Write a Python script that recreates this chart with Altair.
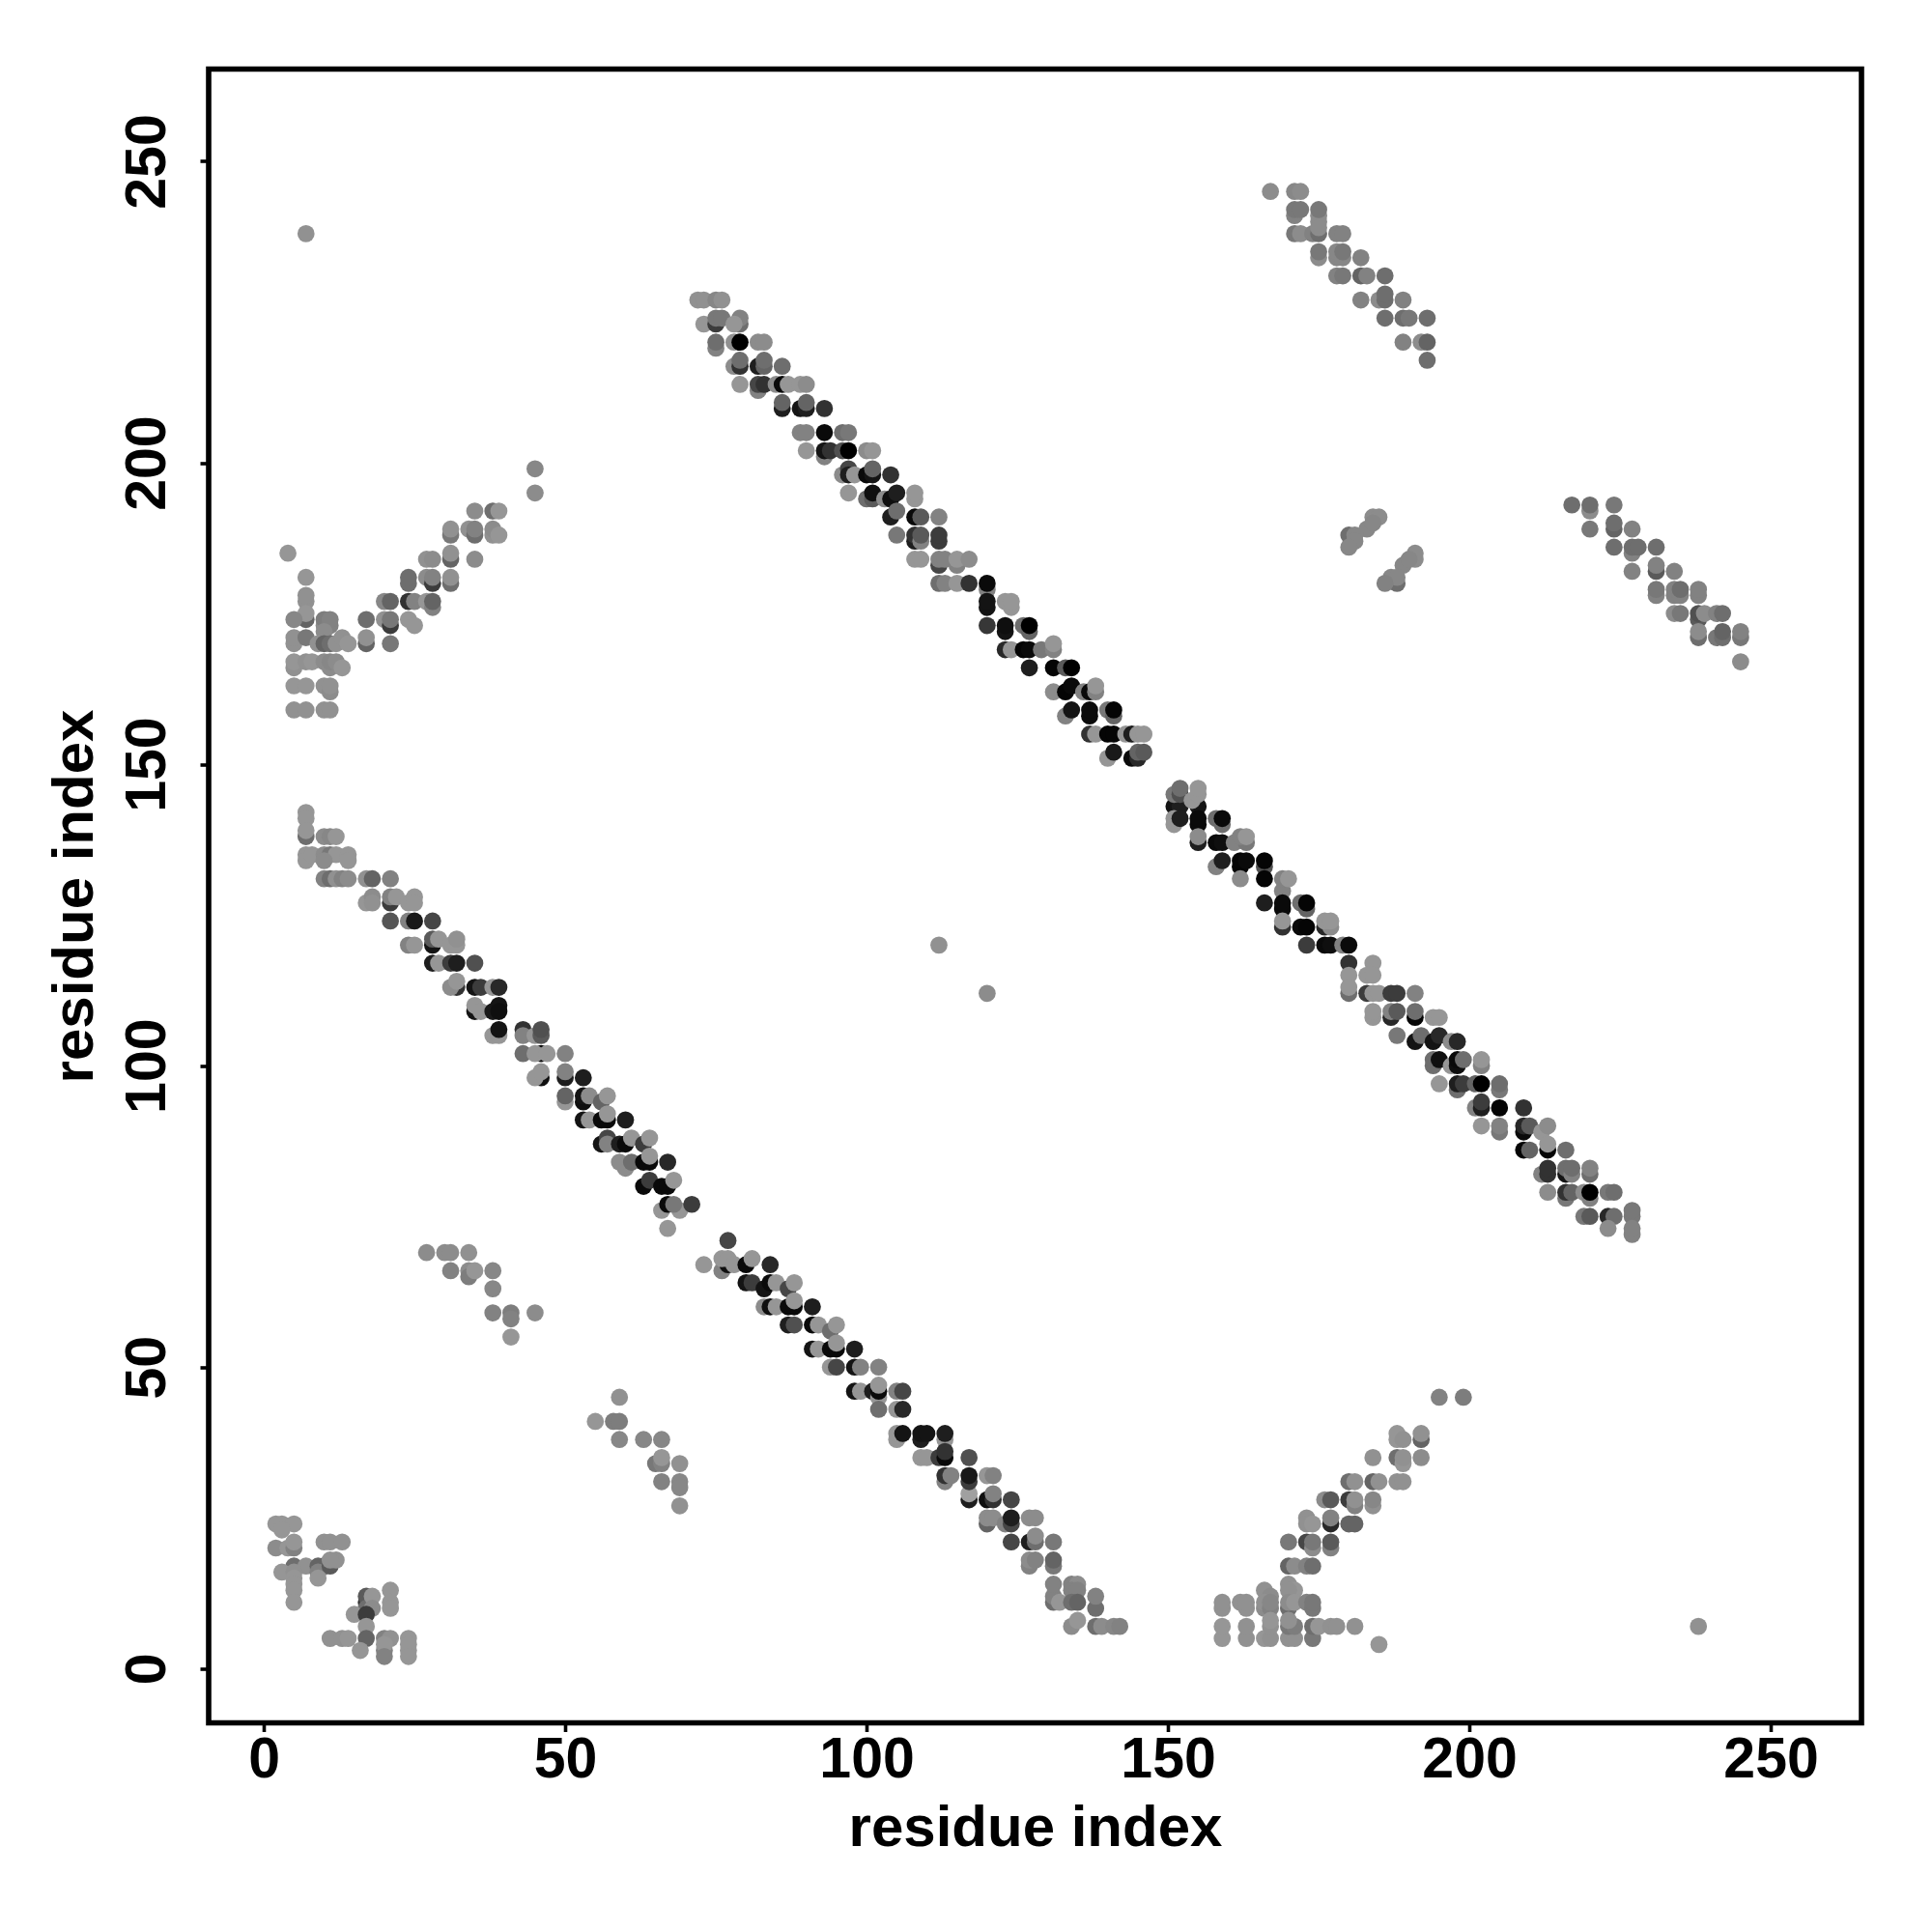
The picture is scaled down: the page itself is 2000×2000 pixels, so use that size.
import altair as alt
import pandas as pd

TICKS = [0, 50, 100, 150, 200, 250]
TITLE = "residue index"

# (residue x, residue y, grey level)
bottom_left = [(2,24,150),(3,24,150),(5,24,150),(3,23,150),(2,20,140),(4,20,150),(5,20,130),(5,21,150),(10,21,145),(11,21,145),(13,21,145),
(5,17,110),(7,17,145),(10,17,50),(9,17,100),(3,16,150),(5,16,145),(9,16,130),(11,17,90),(12,18,145),(11,18,145),(9,15,150),(5,15,150),(5,14,150),(5,13,150),(5,11,150),
(17,11,50),(21,13,150),(17,12,90),(17,10,110),(18,12,150),(21,11,150),(21,10,150),(18,10,140),(15,9,150),(17,9,60),(17,7,150),
(11,5,145),(13,5,145),(14,5,150),(17,5,100),(20,5,130),(21,5,145),(24,5,150),(16,3,150),(20,3,130),(24,3,150),(20,4,150),(24,4,150),(20,2,130),(24,2,150)]
cluster_27_45 = [(27,69,140),(30,69,140),(31,69,140),(34,69,145),(31,66,130),(34,66,140),(34,65,125),(35,66,150),(38,66,135),(38,63,135),(38,59,130),(41,59,125),(41,58,130),(41,55,150),(45,59,140)]
cluster_54_69 = [(59,45,145),(55,41,150),(58,41,125),(59,41,125),(59,38,135),(63,38,135),(66,38,135),(65,34,120),(66,34,130),(66,35,150),(69,34,145),(66,31,130),(69,31,135),(69,30,135),(69,27,145)]
singles = [(112,120,145),(120,112,140),(7,238,145),(238,7,145),(185,4,150),(195,45,130),(199,45,125)]

lower_diag_a = [(7,142,150),(7,141,150),(7,138,110),(7,139,150),(10,138,140),(11,138,135),(12,138,150),(7,135,150),(7,134,150),(8,135,150),(10,135,140),(11,135,120),(12,135,150),(10,134,140),(14,135,150),(14,134,150),
(10,131,130),(11,131,110),(12,131,145),(13,131,130),(14,131,140),(17,131,145),(18,131,100),(21,131,130),(17,127,150),(18,128,140),(18,127,145),(21,127,60),(21,128,130),(22,128,150),(24,127,150),(25,128,150),(25,127,150),
(21,124,85),(24,124,130),(25,124,25),(28,124,70),(24,120,130),(25,120,150),(28,120,20),(28,121,90),(29,121,150),(31,120,150),(32,120,150),(32,121,145),
(28,117,30),(29,117,150),(31,117,60),(32,117,30),(35,117,80),(32,113,50),(31,113,140),(32,114,150),(35,113,20),(36,113,60),(38,113,150),(39,113,40),
(35,109,20),(35,110,150),(36,109,150),(38,109,25),(39,110,20),(39,109,15),(38,105,150),(39,105,150),(39,106,20),
(43,106,50),(43,105,130),(45,105,150),(46,105,90),(46,106,80),(43,102,110),(46,102,10),(45,102,150),(47,102,150),(50,102,130),(46,98,15),(45,98,150),(46,99,150),(50,98,30),(50,99,130),(53,98,30),
(50,94,150),(50,95,100),(53,94,15),(53,95,20),(54,95,140),(56,94,100),(57,95,150),(53,91,20),(54,91,150),(56,91,10),(57,91,10),(57,92,150),(60,91,30),
(56,87,20),(57,88,70),(57,87,130),(59,87,30),(60,87,10),(61,88,150),(63,87,60),(64,88,150),(60,83,140),(59,84,140),(61,84,110),(63,84,10),(64,84,10),(64,85,150),(67,84,40),
(63,80,10),(64,81,60),(66,80,10),(67,80,10),(68,81,150),(66,76,150),(69,76,150),(67,77,10),(68,77,120),(71,77,60),(67,73,150)]

lower_diag_b = [(77,71,70),(73,67,150),(76,66,130),(77,67,15),(76,68,150),(77,68,150),(78,67,150),(80,67,10),(81,68,150),(84,67,40),
(80,64,20),(81,64,60),(83,63,20),(84,64,10),(85,64,150),(87,63,70),(88,64,150),(83,60,140),(84,60,15),(85,60,150),(87,60,10),(88,60,10),(88,61,150),(91,60,30),
(87,57,30),(88,57,80),(91,57,10),(92,57,150),(94,56,110),(95,57,150),(91,53,20),(92,53,150),(94,53,10),(95,53,10),(95,54,150),(98,53,30),
(94,50,150),(95,50,70),(98,50,20),(99,50,130),(102,50,130),(98,46,20),(99,46,150),(101,46,30),(102,45,150),(102,46,10),(102,47,150),(105,46,130),(106,46,70),(102,43,110),(105,43,150),(106,43,40),
(105,38,150),(105,39,150),(106,39,20),(109,38,30),(109,39,20),(110,39,20),(113,38,150),(113,39,30),(109,35,150),(110,35,150),(112,35,60),(113,35,10),(113,36,50),
(113,31,130),(113,32,50),(114,32,130),(117,35,80),(117,28,30),(117,29,160),(117,31,60),(117,32,25),(120,32,150),(121,32,130),(120,28,15),(121,28,50),(121,29,130),(124,28,70),
(120,24,100),(120,25,140),(121,25,140),(123,24,130),(124,24,70),(124,25,30),(124,21,70),(127,21,30),(128,21,110),(128,22,140),(127,25,140),(128,25,140),(131,21,120),
(127,17,130),(127,18,140),(128,18,130),(131,17,120),(131,18,100),(131,11,110),(131,12,130),(131,14,130),(132,11,150),(134,14,130),(135,14,140),(134,13,130),(135,13,130),(134,11,110),(135,11,100),(138,10,110),(138,12,130),
(134,7,140),(135,8,150),(138,7,110),(139,7,140),(141,7,135),(142,7,130)]

bottom_right = [(188,38,150),(188,39,150),(189,38,145),(192,38,100),(192,39,145),(184,35,145),(188,35,110),(189,34,150),(189,35,145),(192,35,140),
(180,31,110),(181,31,145),(184,31,100),(185,31,145),(188,31,145),(189,31,145),(176,28,140),(177,28,90),(180,28,60),(181,27,130),(181,28,145),(184,27,145),(184,28,135),
(173,25,145),(173,24,145),(174,24,150),(177,24,40),(177,25,130),(180,24,100),(181,24,100),(170,21,120),(173,21,70),(174,20,140),(174,21,120),(177,20,130),(177,21,90),
(170,17,100),(171,17,140),(173,17,130),(174,17,110),(166,13,145),(170,14,145),(171,13,150),(170,13,145),(167,12,140),(170,10,110),(170,11,140),(171,11,150),(166,10,140),(166,11,145),(167,10,130),(167,11,135),(173,11,130),(174,10,120),(174,11,120),
(159,10,145),(159,11,145),(162,11,145),(163,10,145),(163,11,145),(159,5,150),(159,7,150),(163,5,145),(163,7,145),(166,5,150),(167,5,145),(167,7,145),(167,8,150),(170,5,145),(171,5,145),(170,7,120),(171,7,125),(170,8,145),(174,5,120),(174,7,110),(175,7,150),(177,7,145),(178,7,145),(181,7,145)]

upper_left = [(45,199,135),(45,195,140),(4,185,150),(7,181,150),(7,177,145),(7,178,145),(7,174,100),(7,175,150),(5,174,135),(5,170,145),(5,171,145),(7,171,120),(10,173,140),(10,174,125),(11,173,130),(11,174,130),(10,172,140),
(9,170,145),(10,170,100),(11,170,110),(12,170,145),(13,171,145),(14,170,150),(5,166,145),(5,167,150),(7,167,145),(8,167,150),(10,167,140),(11,166,140),(11,167,135),(12,167,140),(13,166,150),
(5,163,150),(7,163,150),(10,163,145),(11,162,140),(11,163,145),(5,159,145),(7,159,145),(10,159,145),(11,159,145),
(17,170,100),(17,171,145),(17,174,110),(20,177,135),(21,177,100),(20,174,145),(21,173,60),(21,174,120),(21,170,120),(24,180,110),(24,181,110),(24,177,50),(25,177,130),(24,174,150),(25,173,150),
(27,184,145),(28,184,140),(27,181,140),(28,180,60),(28,181,130),(27,177,150),(28,176,130),(28,177,100),(31,188,120),(31,189,145),(31,184,100),(31,185,145),(31,180,110),(31,181,145),
(35,192,140),(34,189,145),(35,188,110),(35,189,130),(35,184,140),(38,192,110),(39,192,150),(38,188,145),(38,189,140),(39,188,150)]

upper_diag_a = [(72,227,145),(73,227,145),(75,227,135),(76,227,145),(73,223,150),(75,223,60),(75,224,120),(76,224,120),(79,223,110),(79,224,130),(78,223,150),
(75,219,130),(75,220,110),(78,220,145),(79,220,0),(82,220,140),(83,220,140),(78,216,140),(79,216,50),(79,217,110),(82,216,30),(83,216,100),(83,217,110),(86,216,110),
(79,213,150),(82,212,130),(82,213,70),(83,213,50),(85,213,140),(86,213,10),(87,213,150),(89,213,150),(90,213,140),(86,209,30),(86,210,100),(89,209,20),(90,209,30),(90,210,100),(93,209,50),
(89,205,130),(90,205,130),(93,205,10),(96,205,110),(97,205,120),(90,202,150),(93,201,130),(93,202,20),(94,202,50),(96,202,80),(97,202,0),(100,202,140),(101,202,150),
(96,198,140),(97,199,70),(97,198,30),(98,198,150),(100,198,10),(101,198,20),(101,199,100),(104,198,50),(97,195,150),(100,194,110),(101,194,90),(101,195,15),(103,194,140),(104,194,15),(105,195,30),(108,194,150),(108,195,150),
(104,191,30),(105,192,110),(108,191,10),(109,191,90),(112,191,130),(105,188,120),(108,187,30),(108,188,50),(109,187,130),(109,188,90),(112,187,60),(112,188,60),
(108,184,150),(109,184,150),(112,183,70),(112,184,130),(113,184,130),(115,183,130),(115,184,150),(117,184,140),(112,180,110),(113,180,130),(115,180,150),(117,180,50),(120,179,130),(120,180,10),
(120,176,20),(120,177,20),(123,177,150),(124,176,150),(124,177,150),(120,173,55),(123,172,20),(123,173,15),(126,173,110),(127,172,100),(127,173,0),
(123,169,40),(124,169,150),(126,169,5),(127,169,10),(129,169,120),(131,169,130),(131,170,150),(127,166,30),(131,166,5),(133,166,90),(134,166,0),
(131,162,140),(133,162,5),(134,163,10),(136,162,130),(137,162,10),(138,162,130),(138,163,150),(133,158,130),(134,159,20),(137,158,10),(137,159,10),(140,159,120),(141,158,100),(141,159,5),
(137,155,50),(138,155,150),(140,155,5),(141,155,5),(143,155,150),(144,155,30),(145,155,150),(146,155,150),(140,151,150),(141,152,25),(144,151,10),(145,151,40),(145,152,100),(146,152,90)]

upper_diag_b = [(151,143,20),(152,143,30),(151,145,120),(152,145,80),(152,146,110),(155,143,20),(154,144,150),(155,145,150),(155,146,150),(151,140,150),(151,141,150),(152,141,30),(155,140,10),(155,141,10),(158,141,110),(159,140,110),(159,141,10),
(155,137,30),(155,138,140),(158,137,10),(159,137,15),(161,137,130),(163,137,120),(162,138,130),(163,138,150),(158,133,130),(159,134,30),(162,133,5),(162,134,5),(163,134,10),(166,133,80),(166,134,5),
(162,131,140),(166,131,5),(169,129,130),(169,131,130),(170,131,150),(166,127,30),(169,126,10),(169,127,10),(172,127,110),(173,126,100),(173,127,5),
(169,123,50),(169,124,150),(172,123,10),(173,123,5),(176,123,40),(177,123,140),(176,124,150),(177,124,150),(173,120,60),(176,120,10),(177,120,15),(179,120,130),(180,120,10),
(180,117,50),(184,117,150),(180,115,150),(183,115,150),(184,115,150),(180,112,110),(180,113,150),(183,112,60),(184,112,150),(185,112,150),(187,112,60),(188,112,60),(191,112,130),
(184,108,150),(184,109,150),(187,108,40),(187,109,130),(188,109,90),(191,108,5),(191,109,110),(194,108,150),(195,108,150),(188,105,120),(191,104,20),(192,105,110),(194,104,20),(195,105,40),(197,104,140),(198,104,40),
(194,100,110),(194,101,110),(195,101,15),(197,100,150),(198,100,15),(198,101,10),(199,101,110),(202,100,130),(202,101,150),(195,97,150),(198,96,110),(198,97,30),(199,97,60),(201,97,100),(202,97,0),(205,96,120),(205,97,110),
(201,93,130),(202,93,30),(202,94,60),(205,93,5),(202,90,150),(205,89,120),(205,90,130),(209,93,50),(209,89,10),(209,90,40),(210,90,90),(209,86,5),(210,86,100),(212,89,150),(213,90,140),(213,86,5),(213,87,150),(216,86,110),
(212,82,130),(213,82,50),(213,83,50),(216,82,20),(216,83,110),(217,82,130),(217,83,110),(220,82,110),(220,83,130),(213,79,140),(216,78,120),(216,79,50),(217,79,100),(219,79,140),(220,78,130),(220,79,0),(223,79,120),(224,79,110),
(219,75,120),(220,75,90),(223,75,40),(224,75,110),(223,73,140),(227,75,120),(227,76,120),(227,72,130),(227,73,130)]

top_right_a = [(167,245,140),(171,245,135),(172,245,140),(171,241,130),(171,242,120),(172,242,120),(175,240,140),(175,241,140),(175,242,120),(171,238,120),(172,238,140),(174,238,130),(175,238,110),(175,239,140),(178,238,130),(179,238,130),
(175,234,140),(175,235,120),(178,234,135),(178,235,135),(179,234,135),(179,235,120),(182,234,130),(178,231,130),(179,231,120),(182,231,100),(183,231,130),(186,231,110),(182,227,130),(185,227,140),(186,227,110),(186,228,110),(189,227,130),
(186,224,110),(189,224,110),(190,224,120),(193,224,110),(189,220,130),(192,220,140),(193,220,100),(193,217,110)]
top_right_small = [(184,191,140),(185,191,140),(183,189,135),(184,190,135),(180,188,110),(181,188,135),(181,187,135),(180,186,135),(191,184,140),(191,185,140),(189,183,135),(190,184,135),(187,181,135),(188,180,110),(188,181,135),(186,180,130)]
top_right_b = [(217,193,110),(220,192,140),(220,193,110),(220,189,120),(224,193,120),(224,189,100),(224,190,110),(227,189,130),(224,186,110),(227,185,130),(227,186,110),(228,186,110),(231,186,110),(227,182,130),(231,182,90),(231,183,130),(234,182,130),
(231,178,130),(231,179,120),(234,178,130),(234,179,130),(235,178,130),(235,179,110),(238,178,130),(238,179,130),(234,175,140),(235,175,120),(238,174,90),(238,175,80),(239,175,140),(241,175,130),(242,175,110),
(238,171,110),(238,172,140),(241,171,120),(242,171,110),(242,172,100),(245,171,120),(245,172,130),(245,167,140)]

groups = [bottom_left, cluster_27_45, cluster_54_69, singles, lower_diag_a, lower_diag_b, bottom_right,
          upper_left, upper_diag_a, upper_diag_b, top_right_a, top_right_small, top_right_b]
rows = [p for g in groups for p in g]
df = pd.DataFrame(rows, columns=["x", "y", "g"])
df["colour"] = ["#{0:02x}{0:02x}{0:02x}".format(int(v)) for v in df["g"]]

axis_common = dict(values=TICKS, grid=False, domain=False, tickColor="black", tickWidth=3.6, tickSize=9,
                   labelFont="Liberation Sans", labelFontWeight="bold", labelFontSize=59, labelColor="black",
                   titleFont="Liberation Sans", titleFontWeight="bold", titleFontSize=60, titleColor="black",
                   title=TITLE)

chart = alt.Chart(df).mark_circle(size=314, opacity=1).encode(
    x=alt.X("x:Q", scale=alt.Scale(domain=[-9.15, 265.05], nice=False, zero=False),
            axis=alt.Axis(labelPadding=0, labelAngle=0, titlePadding=12, **axis_common)),
    y=alt.Y("y:Q", scale=alt.Scale(domain=[-9.0, 265.3], nice=False, zero=False),
            axis=alt.Axis(labelPadding=25, labelAngle=270, labelAlign="center", labelBaseline="bottom",
                          titlePadding=15, **axis_common)),
    color=alt.Color("colour:N", scale=None, legend=None),
).properties(
    width=1711, height=1712,
    background="white",
    autosize=alt.AutoSizeParams(type="none"),
    padding={"left": 208, "top": 63.5, "right": 60, "bottom": 200},
).configure_view(stroke="black", strokeWidth=5.6, fill="white")

chart.save("out.html", embed_options={"renderer": "svg", "actions": False})
